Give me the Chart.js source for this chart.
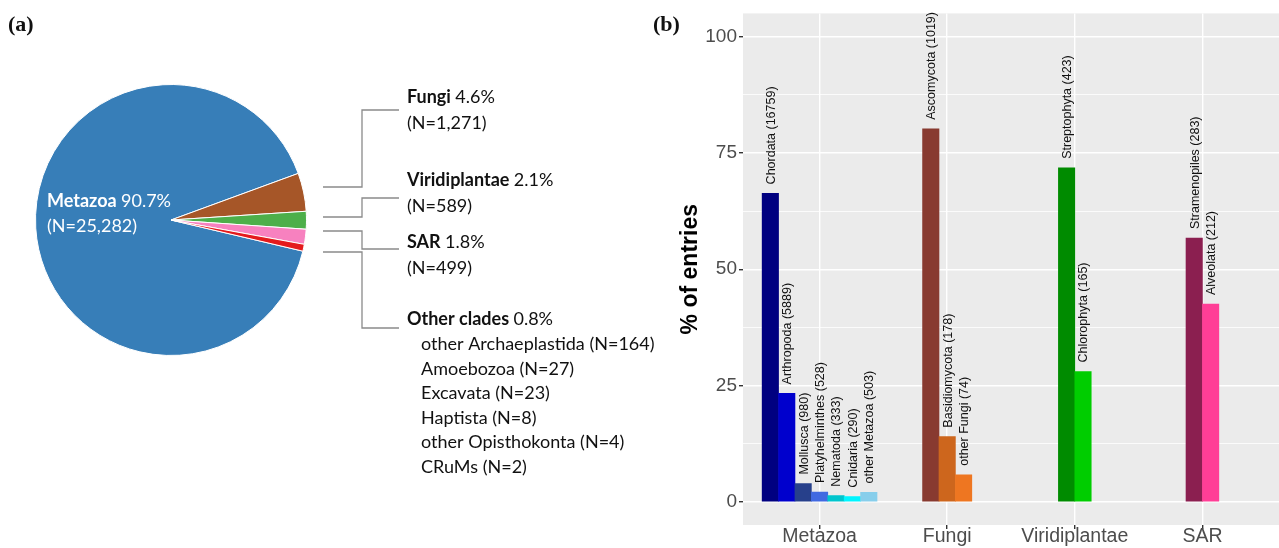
<!DOCTYPE html>
<html><head><meta charset="utf-8">
<script src="https://cdn.jsdelivr.net/npm/chart.js@4.4.1/dist/chart.umd.min.js"></script>
<style>
html,body{margin:0;padding:0;background:#fff;width:1279px;height:548px;overflow:hidden}
#pieWrap{position:absolute;left:0;top:0;width:720px;height:548px}
#barWrap{position:absolute;left:640px;top:0;width:639px;height:548px}
</style></head><body>
<div id="pieWrap"><canvas id="pie"></canvas></div>
<div id="barWrap"><canvas id="bar"></canvas></div>
<script>
// ---------- data: panel (a) ----------
const clades = ['Metazoa', 'Fungi', 'Viridiplantae', 'SAR', 'Other clades'];
const cladePct = ['90.7%', '4.6%', '2.1%', '1.8%', '0.8%'];
const cladeN = [25282, 1271, 589, 499, 228];
const otherNames = ['other Archaeplastida', 'Amoebozoa', 'Excavata', 'Haptista', 'other Opisthokonta', 'CRuMs'];
const otherN = [164, 27, 23, 8, 4, 2];

// ---------- data: panel (b) ----------
const groups = ['Metazoa', 'Fungi', 'Viridiplantae', 'SAR'];
const metazoaTaxa = ['Chordata', 'Arthropoda', 'Mollusca', 'Platyhelminthes', 'Nematoda', 'Cnidaria', 'other Metazoa'];
const metazoaN = [16759, 5889, 980, 528, 333, 290, 503];
const metazoaPct = [66.3, 23.3, 3.9, 2.1, 1.3, 1.1, 2.0];
const fungiTaxa = ['Ascomycota', 'Basidiomycota', 'other Fungi'];
const fungiN = [1019, 178, 74];
const fungiPct = [80.2, 14.0, 5.8];
const viridiTaxa = ['Streptophyta', 'Chlorophyta'];
const viridiN = [423, 165];
const viridiPct = [71.8, 28.0];
const sarTaxa = ['Stramenopiles', 'Alveolata'];
const sarN = [283, 212];
const sarPct = [56.7, 42.5];
const yTickValues = [0, 25, 50, 75, 100];

// ---------- styles ----------
const pieColors = ['#377EB8', '#A65628', '#4DAF4A', '#F781BF', '#E41A1C'];
const metazoaColors = ['#000080', '#0000CD', '#27408B', '#4169E1', '#00C5CD', '#00F5FF', '#87CEEB'];
const fungiColors = ['#883A30', '#CD661D', '#EE7621'];
const viridiColors = ['#008B00', '#00CD00'];
const sarColors = ['#8B1F50', '#FF3E96'];

const PIE_FONT = 'Lato, "Noto Sans", sans-serif';
const R_FONT = '"Liberation Sans", Arial, sans-serif';
const fmt = n => n.toLocaleString('en-US');

// ---------- panel (a): pie ----------
const pieText = {
  id: 'pieText',
  afterDraw(chart) {
    const ctx = chart.ctx;
    ctx.save();
    ctx.textBaseline = 'alphabetic';
    ctx.textAlign = 'left';
    ctx.fillStyle = '#111';
    ctx.font = 'bold 22px "Liberation Serif", "DejaVu Serif", serif';
    ctx.fillText('(a)', 8, 31);
    const size = 18;
    function twoPart(bold, rest, x, y, color) {
      ctx.fillStyle = color;
      ctx.font = 'bold ' + size + 'px ' + PIE_FONT;
      ctx.fillText(bold, x, y);
      const w = ctx.measureText(bold + ' ').width;
      ctx.font = size + 'px ' + PIE_FONT;
      ctx.fillText(rest, x + w, y);
    }
    twoPart(clades[0], cladePct[0], 47, 207, '#fff');
    ctx.font = size + 'px ' + PIE_FONT;
    ctx.fillText('(N=' + fmt(cladeN[0]) + ')', 47, 232);
    const labelX = 407;
    const baseY = [103, 186, 248, 325];
    for (let i = 1; i < clades.length; i++) {
      const y = baseY[i - 1];
      twoPart(clades[i], cladePct[i], labelX, y, '#111');
      if (i < clades.length - 1) {
        ctx.font = size + 'px ' + PIE_FONT;
        ctx.fillText('(N=' + fmt(cladeN[i]) + ')', labelX, y + 26);
      }
    }
    ctx.font = size + 'px ' + PIE_FONT;
    otherNames.forEach((nm, k) => {
      ctx.fillText(nm + ' (N=' + otherN[k] + ')', 421, 350 + k * 24.6);
    });
    ctx.strokeStyle = '#8a8a8a';
    ctx.lineWidth = 1.3;
    const conn = [[187, 110], [217, 198], [231, 249], [252, 328]];
    conn.forEach(([y0, y1]) => {
      ctx.beginPath();
      ctx.moveTo(323, y0); ctx.lineTo(362, y0); ctx.lineTo(362, y1); ctx.lineTo(399, y1);
      ctx.stroke();
    });
    ctx.restore();
  }
};

new Chart(document.getElementById('pie'), {
  type: 'pie',
  data: {
    labels: clades,
    datasets: [{ data: cladeN, backgroundColor: pieColors, borderColor: '#fff', borderWidth: 1 }]
  },
  options: {
    responsive: true, maintainAspectRatio: false, animation: false,
    rotation: 103.3,
    layout: { padding: { left: 35, top: 84, right: 413, bottom: 192 } },
    plugins: { legend: { display: false }, tooltip: { enabled: false } }
  },
  plugins: [pieText]
});

// ---------- panel (b): grouped bars ----------
const sub = [
  { taxa: metazoaTaxa, n: metazoaN, pct: metazoaPct, col: metazoaColors },
  { taxa: fungiTaxa, n: fungiN, pct: fungiPct, col: fungiColors },
  { taxa: viridiTaxa, n: viridiN, pct: viridiPct, col: viridiColors },
  { taxa: sarTaxa, n: sarN, pct: sarPct, col: sarColors }
];
const maxN = Math.max(...sub.map(s => s.pct.length));
const dodge = 0.9 / maxN;
const points = [], colors = [], labels = [];
sub.forEach((s, gi) => {
  const k = s.pct.length;
  s.pct.forEach((v, j) => {
    points.push({ x: gi + (j - (k - 1) / 2) * dodge, y: v });
    colors.push(s.col[j]);
    labels.push(s.taxa[j] + ' (' + s.n[j] + ')');
  });
});

const panelBg = {
  id: 'panelBg',
  beforeDraw(chart) {
    const { ctx, chartArea: a } = chart;
    ctx.save();
    ctx.fillStyle = '#EBEBEB';
    ctx.fillRect(a.left, a.top, a.right - a.left, a.bottom - a.top);
    ctx.restore();
  },
  afterDraw(chart) {
    const ctx = chart.ctx;
    ctx.save();
    ctx.fillStyle = '#111';
    ctx.font = 'bold 22px "Liberation Serif", "DejaVu Serif", serif';
    ctx.textBaseline = 'alphabetic';
    ctx.fillText('(b)', 13, 31);
    ctx.restore();
  }
};
const barLabels = {
  id: 'barLabels',
  afterDatasetsDraw(chart) {
    const ctx = chart.ctx;
    const meta = chart.getDatasetMeta(0);
    ctx.save();
    ctx.fillStyle = '#111';
    ctx.font = '12.5px ' + R_FONT;
    ctx.textAlign = 'left';
    ctx.textBaseline = 'middle';
    meta.data.forEach((el, i) => {
      ctx.save();
      ctx.translate(el.x + 1, el.y - 9);
      ctx.rotate(-Math.PI / 2);
      ctx.fillText(labels[i], 0, 0);
      ctx.restore();
    });
    ctx.restore();
  }
};

new Chart(document.getElementById('bar'), {
  type: 'bar',
  data: {
    datasets: [{ data: points, backgroundColor: colors, borderWidth: 0, barPercentage: 1, categoryPercentage: 1 }]
  },
  options: {
    responsive: true, maintainAspectRatio: false, animation: false,
    layout: { padding: { top: 12, left: 0, right: 0, bottom: 0 } },
    plugins: { legend: { display: false }, tooltip: { enabled: false } },
    scales: {
      x: {
        type: 'linear', min: -0.6, max: groups.length - 0.4, offset: false,
        afterBuildTicks: s => { s.ticks = groups.map((g, i) => ({ value: i })); },
        afterFit: s => { s.height = 23; },
        ticks: {
          autoSkip: false, maxRotation: 0, padding: -4,
          color: '#4d4d4d', font: { family: R_FONT, size: 19.5 },
          callback: v => groups[v]
        },
        grid: { offset: false, color: '#fff', lineWidth: 1.4, tickColor: '#333', tickLength: 4 },
        border: { display: false }
      },
      y: {
        type: 'linear', min: -5, max: 105,
        afterBuildTicks: s => {
          const t = [];
          yTickValues.forEach((v, i) => { t.push({ value: v }); if (i < yTickValues.length - 1) t.push({ value: (v + yTickValues[i + 1]) / 2 }); });
          s.ticks = t;
        },
        afterFit: s => { s.width = 103; },
        ticks: {
          padding: 2, color: '#4d4d4d', font: { family: R_FONT, size: 19 },
          callback: v => (yTickValues.includes(v) ? String(v) : '')
        },
        grid: {
          color: '#fff',
          lineWidth: c => (c.tick && yTickValues.includes(c.tick.value) ? 1.4 : 0.8),
          tickColor: c => (c.tick && yTickValues.includes(c.tick.value) ? '#333' : 'rgba(0,0,0,0)'),
          tickLength: 4
        },
        border: { display: false },
        title: {
          display: true, text: '% of entries', color: '#000',
          font: { family: R_FONT, size: 23, weight: 'bold' },
          padding: { top: 37, bottom: 0 }
        }
      }
    }
  },
  plugins: [panelBg, barLabels]
});
</script>
</body></html>
